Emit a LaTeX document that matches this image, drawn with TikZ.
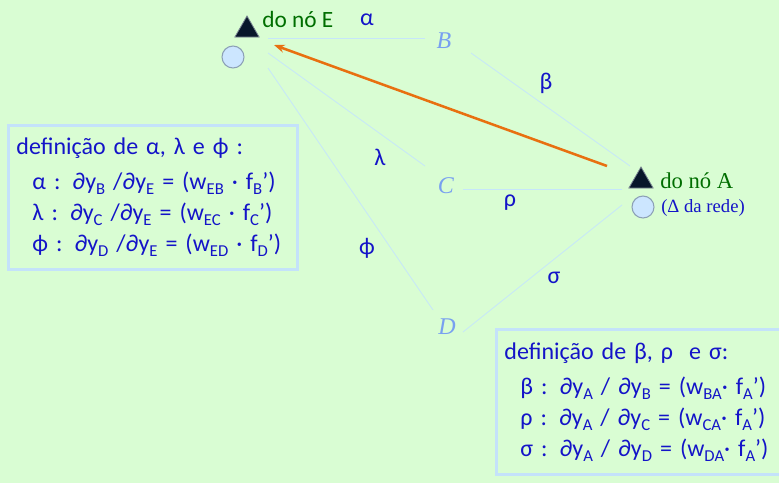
\documentclass[tikz,border=0pt]{standalone}
\usepackage{fontspec}
\setmainfont{Carlito}
\newfontfamily\serifface{Liberation Serif}
\usetikzlibrary{shapes.geometric, positioning, arrows.meta}

\definecolor{bgreen}{RGB}{217,253,211}
\definecolor{linkblue}{RGB}{198,230,250}
\definecolor{boxblue}{RGB}{196,226,250}
\definecolor{txtblue}{RGB}{20,20,200}
\definecolor{letblue}{RGB}{120,160,240}
\definecolor{nodegreen}{RGB}{0,110,0}
\definecolor{flowor}{RGB}{232,112,16}
\definecolor{trifill}{RGB}{8,22,42}
\definecolor{triedge}{RGB}{120,132,145}
\definecolor{cirfill}{RGB}{204,230,255}
\definecolor{ciredge}{RGB}{140,160,182}

\newcommand{\subidx}[1]{\raisebox{-0.45ex}{\fontsize{12.5}{12.5}\selectfont #1}}

\tikzset{
  neuron/.style={circle, draw=ciredge, fill=cirfill, line width=0.8pt, minimum size=16.5pt, inner sep=0pt},
  outtri/.style={regular polygon, regular polygon sides=3, draw=triedge, fill=trifill, line width=0.6pt, minimum size=21pt, inner sep=0pt},
  letter/.style={font=\serifface\itshape\fontsize{18}{18}\selectfont, text=letblue, inner sep=0pt},
  greek/.style={font=\fontsize{18}{18}\selectfont, text=txtblue, inner sep=0pt},
  link/.style={draw=linkblue, line width=0.6pt},
  flow/.style={draw=flowor, line width=1.9pt, -{Stealth[length=8pt,width=6pt]}},
  defbox/.style={draw=boxblue, line width=2.2pt, align=left, anchor=north west,
    font=\fontsize{18}{23.25}\selectfont, text=txtblue, inner xsep=6pt, inner ysep=4pt}
}

\begin{document}
\begin{tikzpicture}[x=0.75pt,y=-0.75pt]
\useasboundingbox[fill=bgreen] (0,0) rectangle (779,483);

% nodes E and A
\node[neuron] (nodeE) at (233,57) {};
\node[outtri] (triE) at (247,30) {};
\node[font=\fontsize{17.5}{17.5}\selectfont, text=nodegreen, anchor=base west, inner sep=0pt] (nameE) at (262,27) {do nó E};
\node[neuron] (nodeA) at (643,207) {};
\node[outtri] (triA) at (641,181) {};
\node[font=\serifface\fontsize{17}{17}\selectfont, text=nodegreen, anchor=base west, inner sep=0pt] (nameA) at (660,188) {do nó A};
\node[font=\serifface\fontsize{14}{14}\selectfont, text=txtblue, anchor=base west, inner sep=0pt] (deltaA) at (661,212) {(Δ da rede)};

% hidden nodes
\node[letter] (labB) at (444,41) {B};
\node[letter] (labC) at (446,186) {C};
\node[letter] (labD) at (447,327) {D};

% line ends
\coordinate (eB) at (268,38);
\coordinate (eC) at (268,53);
\coordinate (eD) at (268,68);
\coordinate (bE) at (425,38);
\coordinate (cE) at (425,166);
\coordinate (dE) at (433,310);
\coordinate (bA) at (471,53);
\coordinate (cA) at (463,189);
\coordinate (dA) at (463,332);
\coordinate (aB) at (630,166);
\coordinate (aC) at (622,189);
\coordinate (aD) at (622,205);

\draw[link] (eB) -- (bE);
\draw[link] (eC) -- (cE);
\draw[link] (eD) -- (dE);
\draw[link] (bA) -- (aB);
\draw[link] (cA) -- (aC);
\draw[link] (dA) -- (aD);

% backward flow
\coordinate (oA) at (607,166);
\coordinate (oE) at (274,45);
\draw[flow] (oA) -- (oE);

% edge labels
\node[greek] (alpha) at (367,20) {α};
\node[greek] (beta) at (546,83) {β};
\node[greek] (lambda) at (380,157) {λ};
\node[greek] (rho) at (510,203) {ρ};
\node[greek] (phi) at (367,248) {ϕ};
\node[greek] (sigma) at (554,278) {σ};

% definitions
\node[defbox, text width=205pt, minimum height=108pt] (defE) at (7,124) {definição de α, λ e ϕ :\\[3pt]
  \hspace*{12pt}α : ∂y\subidx{B} /∂y\subidx{E} = (w\subidx{EB} · f\subidx{B}’)\\
  \hspace*{12pt}λ : ∂y\subidx{C} /∂y\subidx{E} = (w\subidx{EC} · f\subidx{C}’)\\
  \hspace*{12pt}ϕ : ∂y\subidx{D} /∂y\subidx{E} = (w\subidx{ED} · f\subidx{D}’)};
\node[defbox, text width=202pt, minimum height=109pt] (defA) at (495,328) {definição de β, ρ~ e σ:\\[3pt]
  \hspace*{12pt}β : ∂y\subidx{A} / ∂y\subidx{B} = (w\subidx{BA}· f\subidx{A}’)\\
  \hspace*{12pt}ρ : ∂y\subidx{A} / ∂y\subidx{C} = (w\subidx{CA}· f\subidx{A}’)\\
  \hspace*{12pt}σ : ∂y\subidx{A} / ∂y\subidx{D} = (w\subidx{DA}· f\subidx{A}’)};
\end{tikzpicture}
\end{document}
